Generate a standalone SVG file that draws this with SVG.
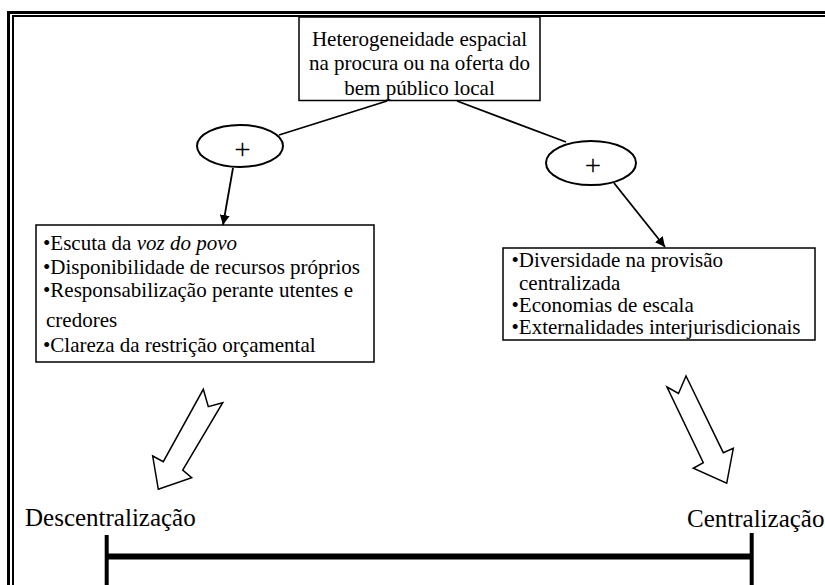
<svg xmlns="http://www.w3.org/2000/svg" width="825" height="585" viewBox="0 0 825 585">
<defs>
<style>
text{font-family:"Liberation Serif","Times New Roman",serif;fill:#000}
.t{font-size:21px}
.big{font-size:25px}
.plus{font-size:29px;text-anchor:middle}
.box{fill:#fff;stroke:#000;stroke-width:1.5}
.ell{fill:#fff;stroke:#000;stroke-width:2}
.ln{stroke:#000;stroke-width:1.8;fill:none}
.blk{fill:#fff;stroke:#000;stroke-width:1.5;stroke-linejoin:miter}
</style>
<marker id="ah" viewBox="0 0 10 10" refX="10" refY="5" markerWidth="10" markerHeight="10" markerUnits="userSpaceOnUse" orient="auto">
<path d="M0,0 L10,5 L0,10 Z" fill="#000"/>
</marker>
</defs>
<rect width="825" height="585" fill="#fff"/>
<g id="frame" fill="none" stroke="#000">
<path d="M8.5,585 V12.5 H825" stroke-width="3"/>
<path d="M13,585 V16 H825" stroke-width="2"/>
</g>
<g id="connectors">
<line class="ln" x1="387" y1="101" x2="279" y2="135"/>
<line class="ln" x1="457" y1="101" x2="566" y2="142"/>
<line class="ln" x1="233" y1="168" x2="223" y2="225" marker-end="url(#ah)"/>
<line class="ln" x1="614" y1="183" x2="665" y2="247" marker-end="url(#ah)"/>
<polygon class="blk" points="203.3,389.3 208.3,406.7 222.7,402.7 182.7,470 191.7,477.7 158.3,489.3 152.7,456 163.3,461.7"/>
<polygon class="blk" points="667,387 678.5,393.5 686,376 723.3,452.7 733.3,448.3 726.7,483.3 693.3,468.3 703.3,462.7"/>
</g>
<g id="top" font-family="Liberation Serif, Times New Roman, serif" font-size="21">
<rect class="box" x="299" y="17" width="241" height="83.5"/>
<text class="t" x="419.5" y="45.5" text-anchor="middle">Heterogeneidade espacial</text>
<text class="t" x="419.5" y="70" text-anchor="middle">na procura ou na oferta do</text>
<text class="t" x="419.5" y="95" text-anchor="middle">bem público local</text>
</g>
<g id="plusLeft" font-family="Liberation Serif, Times New Roman, serif">
<ellipse class="ell" cx="240" cy="146" rx="43" ry="21"/>
<text class="plus" x="242.5" y="158.5">+</text>
</g>
<g id="plusRight" font-family="Liberation Serif, Times New Roman, serif">
<ellipse class="ell" cx="591" cy="163" rx="45" ry="22"/>
<text class="plus" x="593" y="175">+</text>
</g>
<g id="leftBox" font-family="Liberation Serif, Times New Roman, serif" font-size="21">
<rect class="box" x="36" y="225" width="338" height="137"/>
<text class="t" x="43" y="250">•Escuta da <tspan font-style="italic">voz do povo</tspan></text>
<text class="t" x="43" y="274">•Disponibilidade de recursos próprios</text>
<text class="t" x="43" y="297">•Responsabilização perante utentes e</text>
<text class="t" x="46" y="327">credores</text>
<text class="t" x="43" y="352">•Clareza da restrição orçamental</text>
</g>
<g id="rightBox" font-family="Liberation Serif, Times New Roman, serif" font-size="21">
<rect class="box" x="503" y="248" width="312" height="92"/>
<text class="t" x="511.5" y="267">•Diversidade na provisão</text>
<text class="t" x="519" y="289.5">centralizada</text>
<text class="t" x="511.5" y="311.5">•Economias de escala</text>
<text class="t" x="511.5" y="333.5">•Externalidades interjurisdicionais</text>
</g>
<g id="scale" font-family="Liberation Serif, Times New Roman, serif">
<text class="big" x="25" y="526">Descentralização</text>
<text class="big" x="687" y="527">Centralização</text>
<line x1="107" y1="556.5" x2="752" y2="556.5" stroke="#000" stroke-width="6"/>
<line x1="106.7" y1="535" x2="106.7" y2="585" stroke="#000" stroke-width="4"/>
<line x1="751.7" y1="533" x2="751.7" y2="585" stroke="#000" stroke-width="4"/>
</g>
</svg>
